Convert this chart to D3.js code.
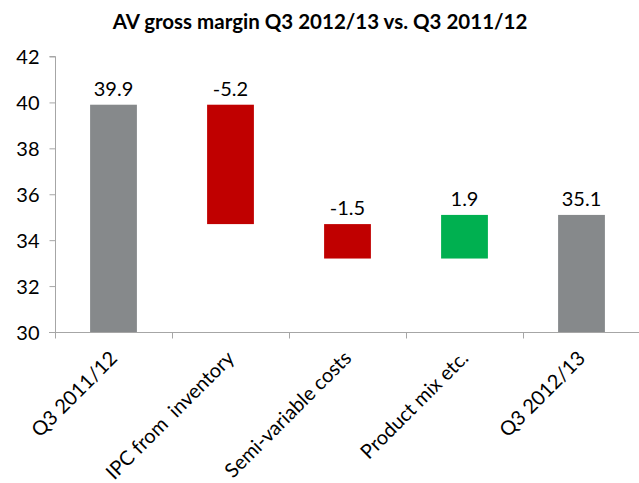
<!DOCTYPE html>
<html><head><meta charset="utf-8">
<script src="https://cdn.jsdelivr.net/npm/d3@7"></script>
<style>
html,body{margin:0;padding:0;background:#fff;}
text{font-family:Lato,"Open Sans",sans-serif;fill:#000;}
</style></head>
<body><svg id="c" width="639" height="483"></svg>
<script>
const categories = ["Q3 2011/12", "IPC from  inventory", "Semi-variable costs", "Product mix etc.", "Q3 2012/13"];
const values = [39.9, -5.2, -1.5, 1.9, 35.1];
const kinds = ["total", "delta", "delta", "delta", "total"];
const labels = ["39.9", "-5.2", "-1.5", "1.9", "35.1"];
const yTicks = [30, 32, 34, 36, 38, 40, 42];
const title = "AV gross margin Q3 2012/13 vs. Q3 2011/12";

const colors = {total: "#86898b", neg: "#c00000", pos: "#00b050"};
const svg = d3.select("#c");
const x = d3.scaleBand().domain(categories).range([55, 640]).paddingInner(0.6).paddingOuter(0.3);
const y = d3.scaleLinear().domain([30, 42]).range([332, 56.5]);

// compute waterfall
let run = 0;
const data = categories.map((c, i) => {
  let lo, hi, col;
  if (kinds[i] === "total") { lo = 30; hi = values[i]; run = values[i]; col = colors.total; }
  else { const s = run; run = s + values[i]; lo = Math.min(s, run); hi = Math.max(s, run); col = values[i] < 0 ? colors.neg : colors.pos; }
  return {c, lo, hi, col, label: labels[i]};
});

svg.append("text").attr("x", 320).attr("y", 29).attr("text-anchor", "middle")
  .style("font-weight", "bold").style("font-size", "20.5px").text(title);

// bars
svg.selectAll("rect.bar").data(data).enter().append("rect")
  .attr("x", d => x(d.c)).attr("width", x.bandwidth())
  .attr("y", d => y(d.hi)).attr("height", d => y(d.lo) - y(d.hi))
  .attr("fill", d => d.col);

svg.selectAll("text.val").data(data).enter().append("text")
  .attr("x", d => x(d.c) + x.bandwidth() / 2).attr("y", d => y(d.hi) - 9)
  .attr("text-anchor", "middle").style("font-size", "20px").text(d => d.label);

// y axis
const yAxis = d3.axisLeft(y).tickValues(yTicks).tickSize(6).tickPadding(10).tickFormat(d3.format("d"));
const gy = svg.append("g").attr("transform", "translate(55.5,0)").call(yAxis);
gy.select(".domain").attr("stroke", "#a6a6a6").attr("d", `M-6,${y(42)}H0V${y(30)}`);
gy.selectAll(".tick line").attr("stroke", "#a6a6a6");
gy.selectAll(".tick text").style("font-size", "20px").attr("fill", "#000").attr("dy", "0.35em");

// x axis
const gx = svg.append("g").attr("transform", `translate(0,${y(30) + 0.5})`);
gx.append("line").attr("x1", 49).attr("x2", 639).attr("stroke", "#a6a6a6");
gx.selectAll("line.t").data(categories.slice(1)).enter().append("line")
  .attr("x1", c => Math.round(x(c) - x.step() * x.paddingInner() / 2) + 0.5)
  .attr("x2", c => Math.round(x(c) - x.step() * x.paddingInner() / 2) + 0.5)
  .attr("y1", 0).attr("y2", 6).attr("stroke", "#a6a6a6");
gx.append("line").attr("x1", 55.5).attr("x2", 55.5).attr("y1", 0).attr("y2", 6).attr("stroke", "#a6a6a6");

gx.selectAll("text.cat").data(categories).enter().append("text")
  .attr("transform", c => `translate(${x(c) + x.bandwidth() / 2 + 5},${27}) rotate(-45)`)
  .attr("text-anchor", "end").style("font-size", "20px").style("white-space", "pre")
  .text(c => c);
</script></body></html>
